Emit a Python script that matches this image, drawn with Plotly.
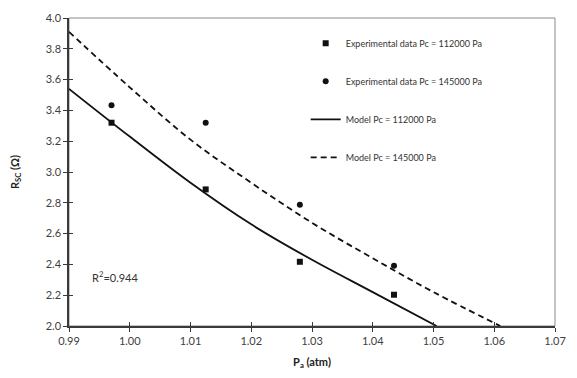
import plotly.graph_objects as go

# Experimental data
exp_x = [0.997, 1.0125, 1.028, 1.0435]
exp_112 = [3.32, 2.887, 2.417, 2.203]
exp_145 = [3.434, 3.32, 2.787, 2.391]

# Model curves
mod112_x = [0.99, 1.00, 1.01, 1.02, 1.03, 1.04, 1.0505]
mod112_y = [3.54, 3.23, 2.93, 2.66, 2.43, 2.22, 2.00]
mod145_x = [0.99, 1.00, 1.01, 1.02, 1.03, 1.04, 1.05, 1.061]
mod145_y = [3.91, 3.55, 3.21, 2.93, 2.67, 2.44, 2.22, 2.00]

x_ticks = [0.99, 1.00, 1.01, 1.02, 1.03, 1.04, 1.05, 1.06, 1.07]
y_ticks = [2.0, 2.2, 2.4, 2.6, 2.8, 3.0, 3.2, 3.4, 3.6, 3.8, 4.0]

FONT = "Lato"
DARK = "#3a3a3a"

fig = go.Figure()
fig.add_trace(go.Scatter(x=exp_x, y=exp_112, mode="markers", name="Experimental data Pc = 112000 Pa",
                         marker=dict(symbol="square", size=6, color="#111111"), legendgroup="a"))
fig.add_trace(go.Scatter(x=exp_x, y=exp_145, mode="markers", name="Experimental data Pc = 145000 Pa",
                         marker=dict(symbol="circle", size=6, color="#111111"), legendgroup="b"))
fig.add_trace(go.Scatter(x=mod112_x, y=mod112_y, mode="lines", name="Model Pc = 112000 Pa",
                         line=dict(color="#111111", width=1.8, shape="spline"), legendgroup="c"))
fig.add_trace(go.Scatter(x=mod145_x, y=mod145_y, mode="lines", name="Model Pc = 145000 Pa",
                         line=dict(color="#111111", width=1.8, dash="6px,4px", shape="spline"), legendgroup="d"))
# helper trace to attach inside-tick overlay axes
fig.add_trace(go.Scatter(x=[None], y=[None], xaxis="x2", yaxis="y2", showlegend=False, hoverinfo="skip"))

axis_common = dict(showgrid=False, zeroline=False, ticks="outside", ticklen=4, tickwidth=1,
                   tickcolor=DARK, showline=True, linecolor=DARK, linewidth=1.5,
                   tickfont=dict(family=FONT, size=11, color="#404040"))

fig.update_layout(
    width=577, height=378,
    margin=dict(l=69, r=11, t=15, b=51),
    paper_bgcolor="white", plot_bgcolor="white",
    font=dict(family=FONT, size=11, color="#222"),
    xaxis=dict(range=[0.99, 1.07], tickvals=x_ticks, ticktext=[f"{v:.2f}" for v in x_ticks],
               title=dict(text="<b>P<sub>a</sub> (atm)</b>", font=dict(family=FONT, size=11, color="#222"), standoff=12),
               **axis_common),
    yaxis=dict(range=[2.0, 4.0], tickvals=y_ticks, ticktext=[f"{v:.1f}" for v in y_ticks],
               title=dict(text="<b>R<sub>SC</sub> (Ω)</b>", font=dict(family=FONT, size=11, color="#222"), standoff=24),
               **axis_common),
    xaxis2=dict(range=[0.99, 1.07], overlaying="x", anchor="y2", tickvals=x_ticks, showticklabels=False,
                ticks="inside", ticklen=4, tickcolor=DARK, showgrid=False, zeroline=False, showline=False),
    yaxis2=dict(range=[2.0, 4.0], overlaying="y", anchor="x2", tickvals=y_ticks, showticklabels=False,
                ticks="inside", ticklen=4, tickcolor=DARK, showgrid=False, zeroline=False, showline=False),
    legend=dict(x=0.487, y=0.965, xanchor="left", yanchor="top", bgcolor="rgba(0,0,0,0)",
                font=dict(family=FONT, size=9, color="#333"), tracegroupgap=19, traceorder="grouped"),
    shapes=[dict(type="rect", xref="paper", yref="paper", x0=0, x1=1, y0=0, y1=1,
                 line=dict(color="#8a8a8a", width=1), layer="below")],
    annotations=[dict(x=0.9934, y=2.32, xref="x", yref="y", text="R<sup>2</sup>=0.944", showarrow=False,
                      xanchor="left", font=dict(family=FONT, size=11, color="#333"))],
)

fig.write_html("out.html")
